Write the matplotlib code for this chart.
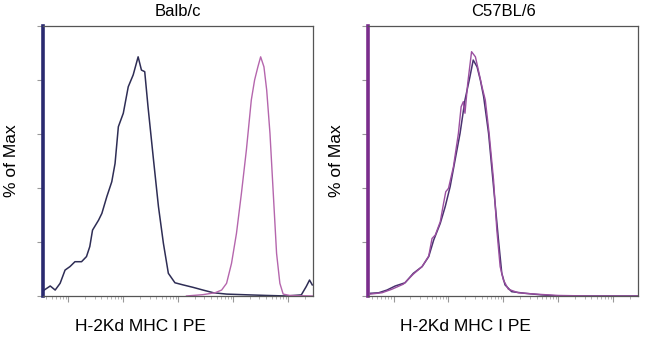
import numpy as np
import matplotlib
matplotlib.use("Agg")
import matplotlib.pyplot as plt
from matplotlib.ticker import LogLocator, NullFormatter, FixedLocator

plt.rcParams["font.family"] = ["Liberation Sans", "DejaVu Sans"]

# ── data (log10 fluorescence, % of max) ──────────────────────────────────────
balb_ctrl_log = [0.56, 0.67, 0.76, 0.85, 0.94, 1.03, 1.12, 1.24, 1.33, 1.39, 1.44,
                 1.55, 1.61, 1.70, 1.79, 1.85, 1.91, 2.00, 2.09, 2.18, 2.27, 2.33,
                 2.39, 2.45, 2.55, 2.64, 2.73, 2.82, 2.94, 3.09, 3.27, 3.45, 3.64,
                 3.88, 4.30, 4.61, 4.97, 5.24, 5.33, 5.39, 5.44]
balb_ctrl_pct = [2.2, 3.7, 2.2, 4.7, 9.6, 10.9, 12.7, 12.7, 14.6, 18.3, 24.4,
                 28.1, 30.6, 36.8, 42.3, 49.1, 62.7, 67.7, 77.5, 81.9, 88.6, 83.7,
                 83.1, 70.1, 50.4, 33.1, 19.5, 8.4, 4.9, 4.1, 3.2, 2.2, 1.2,
                 0.7, 0.4, 0.2, 0.0, 0.4, 3.5, 5.9, 4.1]

balb_stain_log = [3.15, 3.45, 3.67, 3.79, 3.88, 3.97, 4.06, 4.15, 4.24, 4.33, 4.39,
                  4.45, 4.50, 4.56, 4.61, 4.67, 4.73, 4.79, 4.85, 4.91, 5.03, 5.45]
balb_stain_pct = [0.0, 0.5, 1.2, 2.2, 4.7, 12.1, 23.2, 38.0, 54.0, 72.6, 80.0,
                  84.9, 88.6, 84.9, 76.3, 60.2, 38.0, 15.8, 4.7, 0.7, 0.2, 0.0]

b6_ctrl_log = [0.58, 0.73, 0.88, 1.03, 1.21, 1.36, 1.52, 1.64, 1.73, 1.85, 1.94,
               2.03, 2.12, 2.21, 2.30, 2.39, 2.45, 2.52, 2.58, 2.64, 2.73, 2.82,
               2.91, 2.97, 3.03, 3.15, 3.39, 3.70, 4.00, 5.45]
b6_ctrl_pct = [1.0, 1.2, 2.2, 3.7, 4.9, 8.4, 10.9, 14.6, 20.7, 26.9, 33.1,
               40.5, 50.4, 60.2, 72.6, 81.2, 87.4, 84.9, 80.0, 73.8, 60.2, 40.5,
               20.7, 8.4, 4.1, 1.6, 1.0, 0.4, 0.0, 0.0]

b6_stain_log = [0.58, 0.79, 0.97, 1.18, 1.36, 1.52, 1.64, 1.70, 1.76, 1.85, 1.91,
                1.95, 2.00, 2.09, 2.18, 2.23, 2.27, 2.30, 2.35, 2.42, 2.49, 2.55,
                2.61, 2.67, 2.74, 2.82, 2.88, 2.94, 3.00, 3.09, 3.27, 3.58, 4.00,
                4.60, 5.45]
b6_stain_pct = [0.7, 1.2, 2.5, 4.4, 8.1, 10.9, 14.8, 21.3, 22.6, 27.5, 34.3,
                38.6, 39.9, 47.9, 60.2, 70.1, 72.0, 67.7, 78.8, 90.5, 88.6, 83.1,
                77.5, 72.6, 60.2, 43.0, 24.4, 10.9, 5.9, 2.5, 1.2, 0.7, 0.2,
                0.0, 0.0]

titles = ["Balb/c", "C57BL/6"]
x_label = "H-2Kd MHC I PE"
y_label = "% of Max"
y_ticks = [0, 20, 40, 60, 80, 100]
x_range = (10 ** 0.533, 10 ** 5.455)

NAVY = "#2e2d55"
MAGENTA = "#b566ad"

fig = plt.figure(figsize=(6.5, 3.37), dpi=100)
positions = [[0.0657, 0.1217, 0.416, 0.801], [0.566, 0.1217, 0.416, 0.801]]
panels = [
    (balb_ctrl_log, balb_ctrl_pct, balb_stain_log, balb_stain_pct, "#2a2a70", NAVY, MAGENTA),
    (b6_ctrl_log, b6_ctrl_pct, b6_stain_log, b6_stain_pct, "#7a2d8c", "#4a3270", "#9a4fa0"),
]

for pos, title, (cx, cy, sx, sy, spine_col, c1, c2) in zip(positions, titles, panels):
    ax = fig.add_axes(pos)
    ax.plot(np.power(10, cx), cy, color=c1, lw=1.1)
    ax.plot(np.power(10, sx), sy, color=c2, lw=1.0)
    ax.set_xscale("log")
    ax.set_xlim(*x_range)
    ax.set_ylim(0, 100)
    ax.yaxis.set_major_locator(FixedLocator(y_ticks))
    ax.set_yticklabels([])
    ax.xaxis.set_major_locator(LogLocator(base=10, numticks=10))
    ax.xaxis.set_minor_locator(LogLocator(base=10, subs=np.arange(2, 10), numticks=20))
    ax.xaxis.set_major_formatter(NullFormatter())
    ax.xaxis.set_minor_formatter(NullFormatter())
    ax.tick_params(axis="both", which="major", direction="out", length=4, width=0.8, color="#999999")
    ax.tick_params(axis="x", which="minor", direction="out", length=2.5, width=0.6, color="#aaaaaa")
    for side in ["top", "right", "bottom"]:
        ax.spines[side].set_color("#555555")
        ax.spines[side].set_linewidth(0.9)
    ax.spines["left"].set_color(spine_col)
    ax.spines["left"].set_linewidth(2.6)
    ax.set_title(title, fontsize=12, pad=7)
    ax.text(0.12, -0.112, x_label, transform=ax.transAxes, fontsize=12.5,
            ha="left", va="center")
    ax.text(-0.115, 0.5, y_label, transform=ax.transAxes, fontsize=12.5,
            rotation=90, ha="center", va="center")

fig.savefig("out.png", dpi=100)
